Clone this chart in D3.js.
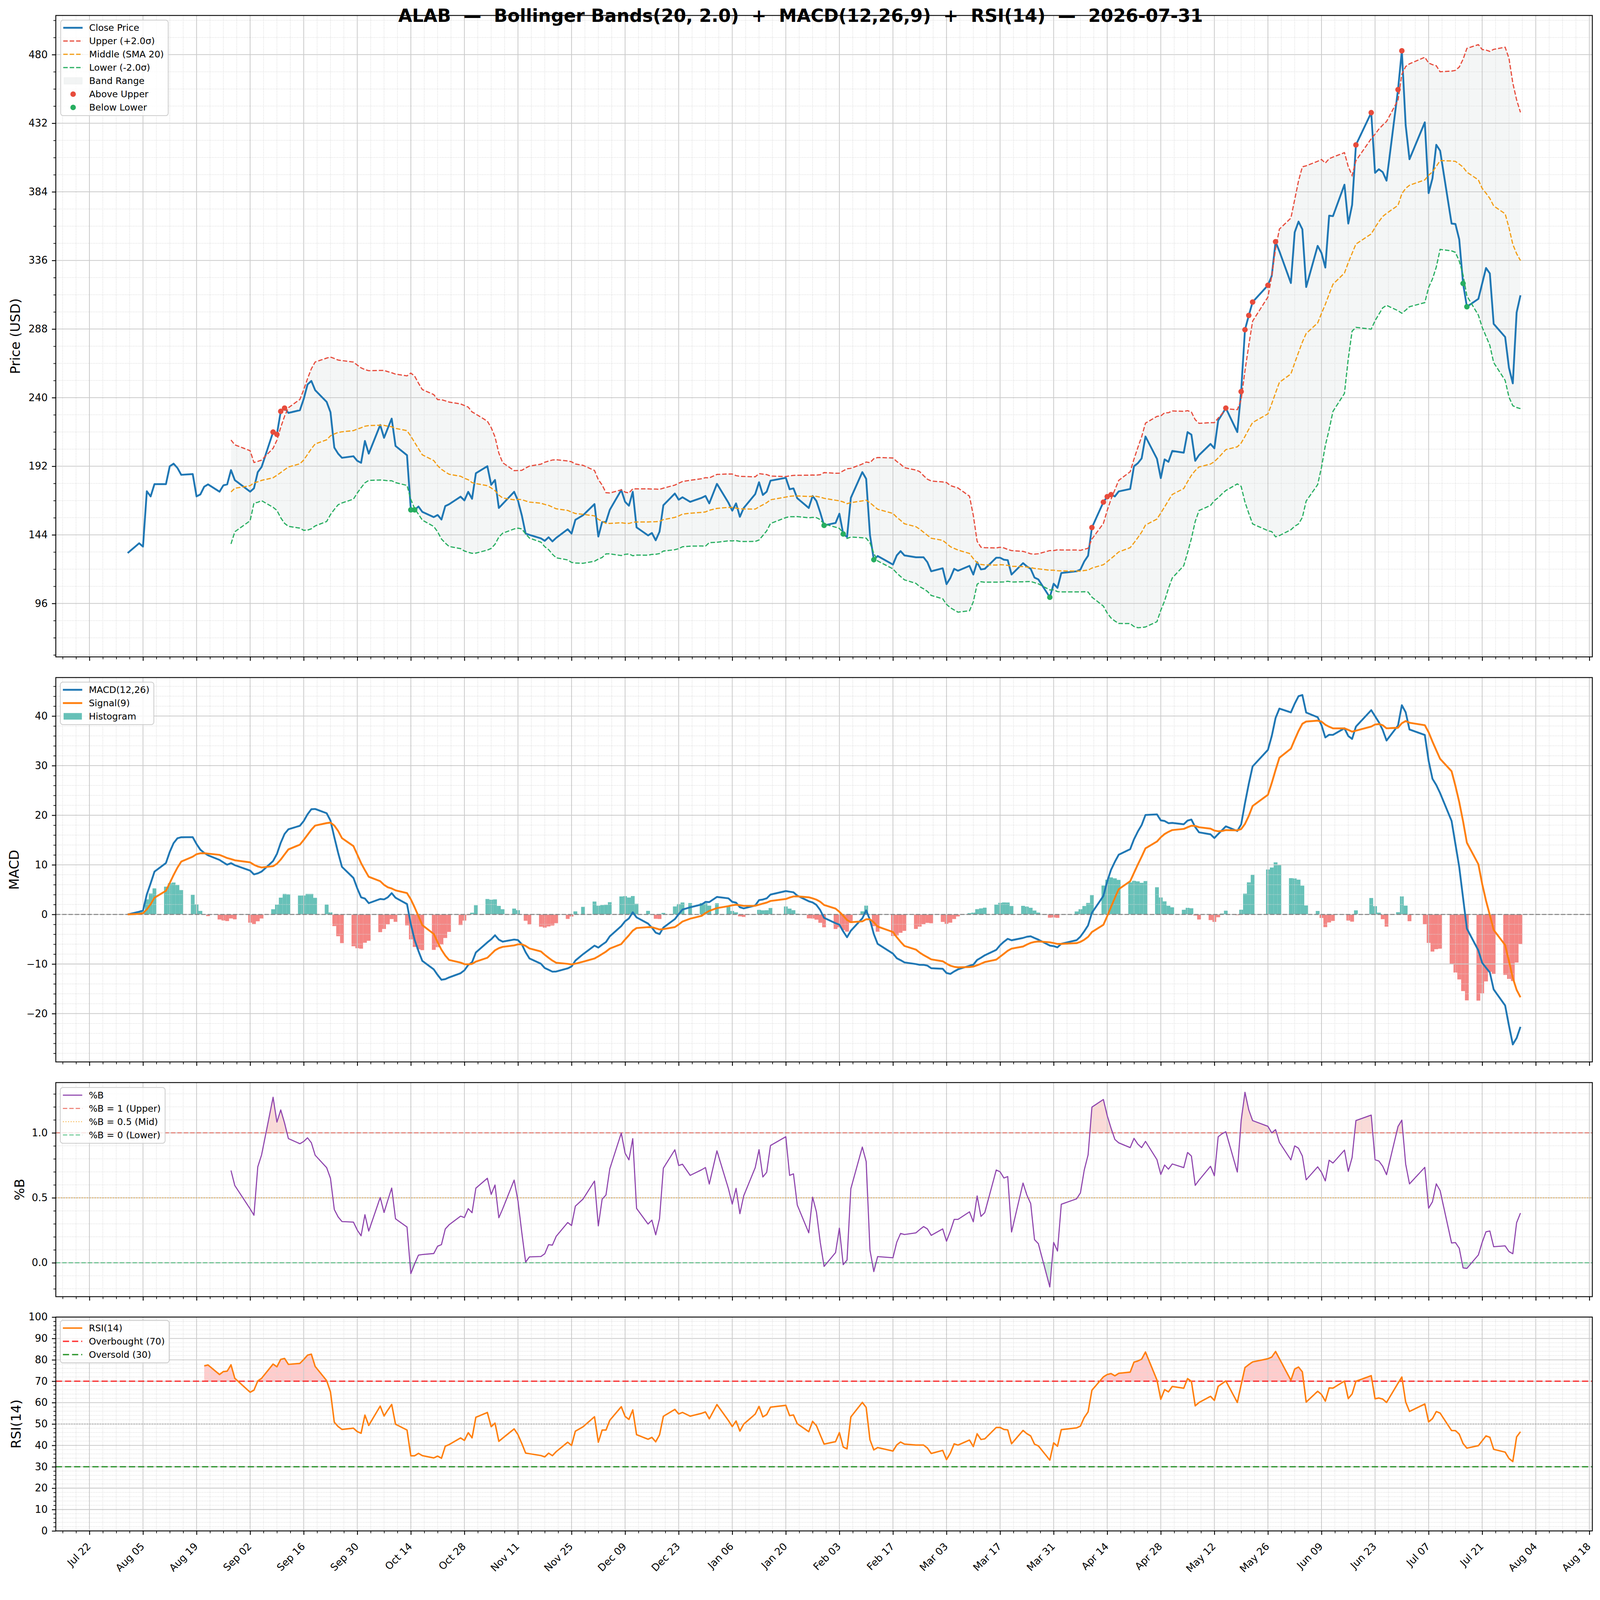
<!DOCTYPE html>
<html>
<head>
<meta charset="utf-8">
<title>ALAB Bollinger Bands + MACD + RSI</title>
<script src="https://cdn.jsdelivr.net/npm/d3@7"></script>
<style>
  html, body { margin: 0; padding: 0; width: 100%; height: 100%; overflow: hidden; background: #ffffff; }
  svg { display: block; width: 100vw; height: 100vh; }
  text { font-family: "DejaVu Sans", sans-serif; }
</style>
</head>
<body>
<script>
(function(){

    // daily closes, one per trading day from 2025-08-01 to 2026-07-31
    var closePrices = [
        131.3, 138.1, 135.8, 174.5, 170.9, 179.5, 179.5, 192.0, 193.8, 190.8, 186.0, 186.5, 170.9, 172.3, 177.7, 179.3, 174.2, 178.6, 179.3, 189.3, 182.3,
        174.2, 176.6, 187.9, 191.5, 215.9, 214.3, 230.4, 232.7, 229.3, 231.2, 239.0, 249.2, 251.7, 245.2, 237.0, 229.8, 205.1, 200.8, 197.9, 199.0, 195.8,
        194.4, 209.7, 200.8, 220.9, 211.9, 218.7, 225.3, 206.2, 199.7, 161.5, 161.5, 163.8, 160.1, 156.4, 157.9, 154.7, 164.1, 165.4, 170.7, 168.1, 174.1, 169.2, 187.1,
        192.0, 179.0, 182.4, 162.8, 165.6, 174.1, 167.9, 157.7, 144.9, 144.0, 141.5, 139.8, 142.3, 139.4, 141.9, 147.9, 144.9, 154.5, 157.7,
        165.5, 142.8, 153.0, 153.0, 161.5, 175.4, 167.1, 164.4, 174.1, 149.2, 143.6, 145.3, 140.2, 146.2, 164.7, 172.9, 168.6, 170.3, 167.1, 169.9, 171.2, 166.0,
        179.7, 166.5, 160.9, 166.0, 156.6, 162.8, 172.5, 180.8, 171.9, 174.2, 181.9, 183.9, 175.9, 176.5, 169.6, 162.8, 171.2, 167.7, 159.6, 150.6,
        152.3, 158.8, 144.6, 142.5, 169.9, 187.9, 183.2, 143.8, 126.6, 129.2, 123.2, 129.6, 132.6, 129.6, 128.3, 128.3, 128.3, 124.9, 118.5,
        120.6, 109.5, 113.8, 120.2, 118.9, 122.3, 116.2, 124.9, 119.8, 120.2, 128.0, 128.0, 126.6, 126.3, 116.2, 124.2, 121.9, 120.2, 114.1, 112.8, 100.3, 109.8,
        106.9, 117.3, 118.5, 119.7, 125.4, 129.4, 149.1, 166.9, 170.7, 172.1, 170.9, 174.4, 176.1, 192.0, 194.1, 197.5, 212.8, 197.2, 183.7, 196.8, 195.1,
        202.7, 201.5, 215.9, 214.1, 195.8, 199.8, 207.6, 204.5, 224.0, 228.3, 232.7, 215.9, 244.2, 287.5, 297.5, 306.9, 318.6, 325.2, 349.1, 342.4,
        320.2, 355.7, 363.2, 357.8, 317.4, 346.2, 341.2, 331.0, 367.3, 367.0, 389.0, 361.8, 374.8, 416.8, 439.4, 397.3, 399.8, 397.8, 391.8, 455.5, 482.7,
        430.6, 406.8, 432.6, 383.1, 393.4, 416.9, 412.8, 361.8, 361.5, 350.7, 319.9, 303.6, 309.1, 319.9, 330.7, 326.9, 291.6, 282.4, 260.8, 250.0, 299.6, 311.6
    ];

    // market holidays skipped by the series
    var holidays = ["2025-09-01", "2025-11-27", "2025-12-25", "2026-01-01", "2026-01-19",
                    "2026-02-16", "2026-04-03", "2026-05-25", "2026-06-19", "2026-07-03"];
    var firstDay = "2025-08-01";

    // axis ticks
    var tickDates = ["2025-07-22", "2025-08-05", "2025-08-19", "2025-09-02", "2025-09-16", "2025-09-30",
                     "2025-10-14", "2025-10-28", "2025-11-11", "2025-11-25", "2025-12-09", "2025-12-23",
                     "2026-01-06", "2026-01-20", "2026-02-03", "2026-02-17", "2026-03-03", "2026-03-17",
                     "2026-03-31", "2026-04-14", "2026-04-28", "2026-05-12", "2026-05-26", "2026-06-09",
                     "2026-06-23", "2026-07-07", "2026-07-21", "2026-08-04", "2026-08-18"];
    var priceTicks = [96, 144, 192, 240, 288, 336, 384, 432, 480];
    var macdTicks = [-20, -10, 0, 10, 20, 30, 40];
    var pctBTicks = [0, 0.5, 1];
    var rsiTicks = [0, 10, 20, 30, 40, 50, 60, 70, 80, 90, 100];

    var titleText = "ALAB  \u2014  Bollinger Bands(20, 2.0)  +  MACD(12,26,9)  +  RSI(14)  \u2014  2026-07-31";

    // figure layout (px, in viewBox units)
    var W = 4377, H = 4322, L = 152.7, R = 4356;
    var panelBox = {
        price: [42.3, 1797],
        macd: [1853.5, 2905],
        pctb: [2961.5, 3547.2],
        rsi: [3603, 4188]
    };
    var DAY = 86400000;

    var parseDate = d3.timeParse("%Y-%m-%d"),
        keyDate = d3.timeFormat("%Y-%m-%d");

    // trading calendar
    var dates = [];
    var cur = parseDate(firstDay);
    while (dates.length < closePrices.length){
        var wd = cur.getDay();
        if (wd !== 0 && wd !== 6 && holidays.indexOf(keyDate(cur)) < 0) dates.push(cur);
        cur = d3.timeDay.offset(cur, 1);
    }

    //---------------- indicators ----------------
    var n = closePrices.length;
    var mid = [], upper = [], lower = [];
    for (var i=0; i<n; i++){
        if (i < 19){ mid.push(null); upper.push(null); lower.push(null); continue; }
        var win = closePrices.slice(i-19, i+1);
        var m = d3.mean(win), s = d3.deviation(win);
        mid.push(m); upper.push(m + 2*s); lower.push(m - 2*s);
    }

    function ema(arr, span){
        var a = 2/(span+1), out = [arr[0]];
        for (var k=1; k<arr.length; k++) out.push(a*arr[k] + (1-a)*out[k-1]);
        return out;
    }
    var ema12 = ema(closePrices, 12), ema26 = ema(closePrices, 26);
    var macd = closePrices.map(function(c, k){ return ema12[k] - ema26[k]; });
    var signal = ema(macd, 9);
    var hist = macd.map(function(v, k){ return v - signal[k]; });

    // Wilder RSI
    var rsi = [null], avgG = 0, avgL = 0;
    for (i=1; i<n; i++){
        var dlt = closePrices[i] - closePrices[i-1];
        var gn = Math.max(dlt, 0), ls = Math.max(-dlt, 0);
        if (i === 1){ avgG = gn; avgL = ls; }
        else { avgG = avgG*13/14 + gn/14; avgL = avgL*13/14 + ls/14; }
        rsi.push(i >= 14 ? (avgL === 0 ? 100 : 100 - 100/(1 + avgG/avgL)) : null);
    }

    var rows = dates.map(function(d, k){
        var pb = upper[k] == null ? null : (closePrices[k] - lower[k]) / (upper[k] - lower[k]);
        return { date: d, close: closePrices[k], mid: mid[k], upper: upper[k], lower: lower[k],
                 macd: macd[k], signal: signal[k], hist: hist[k], rsi: rsi[k], pb: pb };
    });
    var banded = rows.filter(function(r){ return r.upper != null; });

    //---------------- scales ----------------
    var t0 = dates[0].getTime(), t1 = dates[n-1].getTime(), xPad = (t1 - t0) * 0.0516;
    var x = d3.scaleTime()
        .domain([new Date(t0 - xPad), new Date(t1 + xPad)])
        .range([L, R]);

    function padded(lo, hi){ var r = hi - lo; return [lo - 0.05*r, hi + 0.05*r]; }

    var pMin = d3.min([d3.min(closePrices), d3.min(banded, function(r){ return r.lower; })]);
    var pMax = d3.max([d3.max(closePrices), d3.max(banded, function(r){ return r.upper; })]);
    var yPrice = d3.scaleLinear().domain(padded(pMin, pMax)).range([panelBox.price[1], panelBox.price[0]]);

    var mMin = d3.min([d3.min(macd), d3.min(signal), d3.min(hist), 0]);
    var mMax = d3.max([d3.max(macd), d3.max(signal), d3.max(hist), 0]);
    var yMacd = d3.scaleLinear().domain(padded(mMin, mMax)).range([panelBox.macd[1], panelBox.macd[0]]);

    var bMin = d3.min(banded, function(r){ return r.pb; }), bMax = d3.max(banded, function(r){ return r.pb; });
    var yPctB = d3.scaleLinear().domain(padded(bMin, bMax)).range([panelBox.pctb[1], panelBox.pctb[0]]);

    var yRsi = d3.scaleLinear().domain([0, 100]).range([panelBox.rsi[1], panelBox.rsi[0]]);

    // tick positions
    var majorX = tickDates.map(parseDate);
    var minorX = [];
    majorX.forEach(function(t){
        for (var k=-3; k<=3; k++){
            if (k === 0) continue;
            var v = new Date(t.getTime() + k*3.5*DAY);
            if (v >= x.domain()[0] && v <= x.domain()[1]) minorX.push(v);
        }
    });
    minorX = minorX.filter(function(v, k, a){
        return a.findIndex(function(w){ return Math.abs(w - v) < 3600000; }) === k &&
               !majorX.some(function(w){ return Math.abs(w - v) < 3600000; });
    });

    function minorVals(scale, step){
        var dm = scale.domain(), lo = Math.min(dm[0], dm[1]), hi = Math.max(dm[0], dm[1]);
        return d3.range(Math.ceil(lo/step - 1e-9), Math.floor(hi/step + 1e-9) + 1)
            .map(function(k){ return +(k*step).toFixed(6); });
    }

    //---------------- svg ----------------
    var svg = d3.select("body").append("svg")
        .attr("viewBox", "0 0 " + W + " " + H)
        .attr("preserveAspectRatio", "xMidYMin meet");
    svg.append("rect").attr("width", W).attr("height", H).attr("fill", "#ffffff");
    var defs = svg.append("defs");

    // build one panel: clip, grid, axes; returns layers for the data
    function makePanel(name, y, yMajor, yMinorStep, fmt, yLabel, yLabelX, xLabels){
        var top = panelBox[name][0], bot = panelBox[name][1];
        var g = svg.append("g").attr("class", "panel " + name);

        defs.append("clipPath").attr("id", "clip-" + name)
            .append("rect").attr("x", L).attr("y", top).attr("width", R - L).attr("height", bot - top);

        var under = g.append("g").attr("clip-path", "url(#clip-" + name + ")");
        var grid = g.append("g");
        var over = g.append("g").attr("clip-path", "url(#clip-" + name + ")");
        var axes = g.append("g");

        var yMinor = minorVals(y, yMinorStep).filter(function(v){
            return !yMajor.some(function(w){ return Math.abs(w - v) < 1e-6; });
        });
        var yDom = y.domain();
        var inY = function(v){ return v >= Math.min(yDom[0], yDom[1]) && v <= Math.max(yDom[0], yDom[1]); };

        // minor grid
        grid.selectAll(".gxm").data(minorX).enter().append("line")
            .attr("x1", function(d){ return x(d); }).attr("x2", function(d){ return x(d); })
            .attr("y1", top).attr("y2", bot)
            .attr("stroke", "#d9d9d9").attr("stroke-width", 1.6).attr("stroke-dasharray", "2,2.4");
        grid.selectAll(".gym").data(yMinor).enter().append("line")
            .attr("x1", L).attr("x2", R)
            .attr("y1", function(d){ return y(d); }).attr("y2", function(d){ return y(d); })
            .attr("stroke", "#d9d9d9").attr("stroke-width", 1.6).attr("stroke-dasharray", "2,2.4");
        // major grid
        grid.selectAll(".gx").data(majorX.filter(function(d){ return x(d) > L && x(d) < R; })).enter().append("line")
            .attr("x1", function(d){ return x(d); }).attr("x2", function(d){ return x(d); })
            .attr("y1", top).attr("y2", bot)
            .attr("stroke", "#cbcbcb").attr("stroke-width", 2.2);
        grid.selectAll(".gy").data(yMajor.filter(inY)).enter().append("line")
            .attr("x1", L).attr("x2", R)
            .attr("y1", function(d){ return y(d); }).attr("y2", function(d){ return y(d); })
            .attr("stroke", "#cbcbcb").attr("stroke-width", 2.2);

        // y axis
        var yAx = axes.append("g").attr("transform", "translate(" + L + ",0)")
            .call(d3.axisLeft(y).tickValues(yMajor.filter(inY)).tickSize(10.7).tickPadding(11.6).tickFormat(fmt));
        var yAxMinor = axes.append("g").attr("transform", "translate(" + L + ",0)")
            .call(d3.axisLeft(y).tickValues(yMinor).tickSize(6.5).tickFormat(""));

        // x axis
        var xAx = axes.append("g").attr("transform", "translate(0," + bot + ")")
            .call(d3.axisBottom(x).tickValues(majorX.filter(function(d){ return x(d) >= L && x(d) <= R; }))
                .tickSize(10.7).tickFormat(xLabels ? d3.timeFormat("%b %d") : ""));
        var xAxMinor = axes.append("g").attr("transform", "translate(0," + bot + ")")
            .call(d3.axisBottom(x).tickValues(minorX).tickSize(6.5).tickFormat(""));

        [yAx, yAxMinor, xAx, xAxMinor].forEach(function(a, k){
            a.select(".domain").remove();
            a.attr("font-size", 27.5).attr("font-family", "DejaVu Sans, sans-serif");
            a.selectAll(".tick line").attr("stroke", "#000").attr("stroke-width", k % 2 === 0 ? 2.4 : 1.8);
            a.selectAll(".tick text").attr("fill", "#000");
        });
        if (xLabels){
            xAx.selectAll(".tick text")
                .attr("x", 0).attr("y", 0).attr("dy", null)
                .attr("transform", "translate(5,44) rotate(-45)")
                .style("text-anchor", "end");
        }

        // spines
        axes.append("rect")
            .attr("x", L).attr("y", top).attr("width", R - L).attr("height", bot - top)
            .attr("fill", "none").attr("stroke", "#000").attr("stroke-width", 2.4);

        // y label
        axes.append("text")
            .attr("transform", "translate(" + yLabelX + "," + ((top + bot) / 2) + ") rotate(-90)")
            .attr("text-anchor", "middle").attr("dy", "0.35em")
            .attr("font-size", 36.5).attr("fill", "#000")
            .text(yLabel);

        return { under: under, over: over, axes: axes };
    }

    // legend box in matplotlib style
    function legend(g, x0, y0, items){
        var rowH = 36.3, box = g.append("rect"), body = g.append("g"), maxW = 0;
        items.forEach(function(it, k){
            var cy = y0 + 21 + k*rowH;
            if (it.kind === "line"){
                body.append("line").attr("x1", x0 + 7).attr("x2", x0 + 60).attr("y1", cy).attr("y2", cy)
                    .attr("stroke", it.color).attr("stroke-width", it.width)
                    .attr("stroke-dasharray", it.dash || null).attr("stroke-opacity", it.opacity || 1);
            } else if (it.kind === "rect"){
                body.append("rect").attr("x", x0 + 9).attr("y", cy - 9).attr("width", 50).attr("height", 18)
                    .attr("fill", it.color).attr("fill-opacity", it.opacity)
                    .attr("stroke", it.stroke || "none").attr("stroke-opacity", it.opacity);
            } else {
                body.append("circle").attr("cx", x0 + 34).attr("cy", cy).attr("r", 7.5).attr("fill", it.color);
            }
            var t = body.append("text").attr("x", x0 + 78).attr("y", cy).attr("dy", "0.35em")
                .attr("font-size", 25).attr("fill", "#000").text(it.label);
            maxW = Math.max(maxW, t.node().getComputedTextLength());
        });
        box.attr("x", x0).attr("y", y0).attr("rx", 7).attr("ry", 7)
            .attr("width", 78 + maxW + 12).attr("height", 43.6 + (items.length - 1)*rowH)
            .attr("fill", "#ffffff").attr("fill-opacity", 0.8)
            .attr("stroke", "#cccccc").attr("stroke-width", 2.2);
    }

    function xd(d){ return x(d.date); }

    //---------------- price panel ----------------
    var pp = makePanel("price", yPrice, priceTicks, 12, d3.format("d"), "Price (USD)", 42, false);

    pp.under.append("path").datum(rows)
        .attr("d", d3.area().defined(function(d){ return d.upper != null; })
            .x(xd).y0(function(d){ return yPrice(d.lower); }).y1(function(d){ return yPrice(d.upper); }))
        .attr("fill", "#95a5a6").attr("fill-opacity", 0.1);

    var bandLines = [
        { key: "upper", color: "#e74c3c" },
        { key: "mid", color: "#f39c12" },
        { key: "lower", color: "#27ae60" }
    ];
    pp.over.append("path").datum(rows)
        .attr("d", d3.line().x(xd).y(function(d){ return yPrice(d.close); }))
        .attr("fill", "none").attr("stroke", "#1f77b4").attr("stroke-width", 5)
        .attr("stroke-linejoin", "round");
    bandLines.forEach(function(b){
        pp.over.append("path").datum(rows)
            .attr("d", d3.line().defined(function(d){ return d[b.key] != null; })
                .x(xd).y(function(d){ return yPrice(d[b.key]); }))
            .attr("fill", "none").attr("stroke", b.color).attr("stroke-width", 3.2)
            .attr("stroke-dasharray", "12.3,5.3");
    });
    pp.over.selectAll(".above").data(banded.filter(function(d){ return d.close > d.upper; }))
        .enter().append("circle")
        .attr("cx", xd).attr("cy", function(d){ return yPrice(d.close); })
        .attr("r", 7.5).attr("fill", "#e74c3c");
    pp.over.selectAll(".below").data(banded.filter(function(d){ return d.close < d.lower; }))
        .enter().append("circle")
        .attr("cx", xd).attr("cy", function(d){ return yPrice(d.close); })
        .attr("r", 7.5).attr("fill", "#27ae60");

    legend(pp.axes, 166, 55, [
        { kind: "line", color: "#1f77b4", width: 5, label: "Close Price" },
        { kind: "line", color: "#e74c3c", width: 3.2, dash: "12.3,5.3", label: "Upper (+2.0\u03c3)" },
        { kind: "line", color: "#f39c12", width: 3.2, dash: "12.3,5.3", label: "Middle (SMA 20)" },
        { kind: "line", color: "#27ae60", width: 3.2, dash: "12.3,5.3", label: "Lower (-2.0\u03c3)" },
        { kind: "rect", color: "#95a5a6", opacity: 0.12, stroke: "#95a5a6", label: "Band Range" },
        { kind: "dot", color: "#e74c3c", label: "Above Upper" },
        { kind: "dot", color: "#27ae60", label: "Below Lower" }
    ]);

    //---------------- MACD panel ----------------
    var mp = makePanel("macd", yMacd, macdTicks, 2, d3.format("d"), "MACD", 38, false);

    mp.under.selectAll(".bar").data(rows).enter().append("rect")
        .attr("x", function(d){ return x(new Date(d.date.getTime() - DAY/2)); })
        .attr("width", function(d){ return x(new Date(d.date.getTime() + DAY/2)) - x(new Date(d.date.getTime() - DAY/2)); })
        .attr("y", function(d){ return yMacd(Math.max(0, d.hist)); })
        .attr("height", function(d){ return Math.abs(yMacd(d.hist) - yMacd(0)); })
        .attr("fill", function(d){ return d.hist >= 0 ? "#26a69a" : "#ef5350"; })
        .attr("fill-opacity", 0.7);

    mp.over.append("line")
        .attr("x1", L).attr("x2", R).attr("y1", yMacd(0)).attr("y2", yMacd(0))
        .attr("stroke", "#808080").attr("stroke-width", 2.7).attr("stroke-dasharray", "12,5.3");
    mp.over.append("path").datum(rows)
        .attr("d", d3.line().x(xd).y(function(d){ return yMacd(d.macd); }))
        .attr("fill", "none").attr("stroke", "#1f77b4").attr("stroke-width", 5).attr("stroke-linejoin", "round");
    mp.over.append("path").datum(rows)
        .attr("d", d3.line().x(xd).y(function(d){ return yMacd(d.signal); }))
        .attr("fill", "none").attr("stroke", "#ff7f0e").attr("stroke-width", 5).attr("stroke-linejoin", "round");

    legend(mp.axes, 165, 1866, [
        { kind: "line", color: "#1f77b4", width: 5, label: "MACD(12,26)" },
        { kind: "line", color: "#ff7f0e", width: 5, label: "Signal(9)" },
        { kind: "rect", color: "#26a69a", opacity: 0.7, label: "Histogram" }
    ]);

    //---------------- %B panel ----------------
    var bp = makePanel("pctb", yPctB, pctBTicks, 0.1, d3.format(".1f"), "%B", 53, false);

    defs.append("clipPath").attr("id", "clip-pb-hi").append("rect")
        .attr("x", L).attr("y", panelBox.pctb[0]).attr("width", R - L).attr("height", yPctB(1) - panelBox.pctb[0]);
    defs.append("clipPath").attr("id", "clip-pb-lo").append("rect")
        .attr("x", L).attr("y", yPctB(0)).attr("width", R - L).attr("height", panelBox.pctb[1] - yPctB(0));
    bp.under.append("path").datum(rows)
        .attr("clip-path", "url(#clip-pb-hi)")
        .attr("d", d3.area().defined(function(d){ return d.pb != null; })
            .x(xd).y0(yPctB(1)).y1(function(d){ return yPctB(d.pb); }))
        .attr("fill", "#e74c3c").attr("fill-opacity", 0.2);
    bp.under.append("path").datum(rows)
        .attr("clip-path", "url(#clip-pb-lo)")
        .attr("d", d3.area().defined(function(d){ return d.pb != null; })
            .x(xd).y0(yPctB(0)).y1(function(d){ return yPctB(d.pb); }))
        .attr("fill", "#27ae60").attr("fill-opacity", 0.2);

    var pbLines = [
        { v: 1, color: "#e74c3c", dash: "12,5.5" },
        { v: 0.5, color: "#f39c12", dash: "2.7,4.4" },
        { v: 0, color: "#27ae60", dash: "12,5.5" }
    ];
    pbLines.forEach(function(h){
        bp.over.append("line")
            .attr("x1", L).attr("x2", R).attr("y1", yPctB(h.v)).attr("y2", yPctB(h.v))
            .attr("stroke", h.color).attr("stroke-opacity", 0.7).attr("stroke-width", 2.7)
            .attr("stroke-dasharray", h.dash);
    });
    bp.over.append("path").datum(rows)
        .attr("d", d3.line().defined(function(d){ return d.pb != null; })
            .x(xd).y(function(d){ return yPctB(d.pb); }))
        .attr("fill", "none").attr("stroke", "#8e44ad").attr("stroke-width", 3).attr("stroke-linejoin", "round");

    legend(bp.axes, 165, 2975, [
        { kind: "line", color: "#8e44ad", width: 3, label: "%B" },
        { kind: "line", color: "#e74c3c", width: 2.7, dash: "12,5.5", opacity: 0.7, label: "%B = 1 (Upper)" },
        { kind: "line", color: "#f39c12", width: 2.7, dash: "2.7,4.4", opacity: 0.7, label: "%B = 0.5 (Mid)" },
        { kind: "line", color: "#27ae60", width: 2.7, dash: "12,5.5", opacity: 0.7, label: "%B = 0 (Lower)" }
    ]);

    //---------------- RSI panel ----------------
    var rp = makePanel("rsi", yRsi, rsiTicks, 2, d3.format("d"), "RSI(14)", 44, true);

    defs.append("clipPath").attr("id", "clip-rsi-hi").append("rect")
        .attr("x", L).attr("y", panelBox.rsi[0]).attr("width", R - L).attr("height", yRsi(70) - panelBox.rsi[0]);
    defs.append("clipPath").attr("id", "clip-rsi-lo").append("rect")
        .attr("x", L).attr("y", yRsi(30)).attr("width", R - L).attr("height", panelBox.rsi[1] - yRsi(30));
    rp.under.append("path").datum(rows)
        .attr("clip-path", "url(#clip-rsi-hi)")
        .attr("d", d3.area().defined(function(d){ return d.rsi != null; })
            .x(xd).y0(yRsi(70)).y1(function(d){ return yRsi(d.rsi); }))
        .attr("fill", "#ff0000").attr("fill-opacity", 0.2);
    rp.under.append("path").datum(rows)
        .attr("clip-path", "url(#clip-rsi-lo)")
        .attr("d", d3.area().defined(function(d){ return d.rsi != null; })
            .x(xd).y0(yRsi(30)).y1(function(d){ return yRsi(d.rsi); }))
        .attr("fill", "#008000").attr("fill-opacity", 0.2);

    var rsiLines = [
        { v: 70, color: "#ff0000", opacity: 0.8, width: 3.6, dash: "17,8" },
        { v: 30, color: "#008000", opacity: 0.8, width: 3.6, dash: "17,8" },
        { v: 50, color: "#808080", opacity: 0.5, width: 2.7, dash: "2.7,4.4" }
    ];
    rsiLines.forEach(function(h){
        rp.over.append("line")
            .attr("x1", L).attr("x2", R).attr("y1", yRsi(h.v)).attr("y2", yRsi(h.v))
            .attr("stroke", h.color).attr("stroke-opacity", h.opacity).attr("stroke-width", h.width)
            .attr("stroke-dasharray", h.dash);
    });
    rp.over.append("path").datum(rows)
        .attr("d", d3.line().defined(function(d){ return d.rsi != null; })
            .x(xd).y(function(d){ return yRsi(d.rsi); }))
        .attr("fill", "none").attr("stroke", "#ff7f0e").attr("stroke-width", 4).attr("stroke-linejoin", "round");

    legend(rp.axes, 165, 3612, [
        { kind: "line", color: "#ff7f0e", width: 4, label: "RSI(14)" },
        { kind: "line", color: "#ff0000", width: 3.6, dash: "17,8", opacity: 0.8, label: "Overbought (70)" },
        { kind: "line", color: "#008000", width: 3.6, dash: "17,8", opacity: 0.8, label: "Oversold (30)" }
    ]);

    //---------------- title ----------------
    svg.append("text")
        .attr("x", 2190).attr("y", 60)
        .attr("text-anchor", "middle")
        .attr("font-size", 49).attr("font-weight", "bold").attr("fill", "#000")
        .style("white-space", "pre")
        .text(titleText);

})();
</script>
</body>
</html>
